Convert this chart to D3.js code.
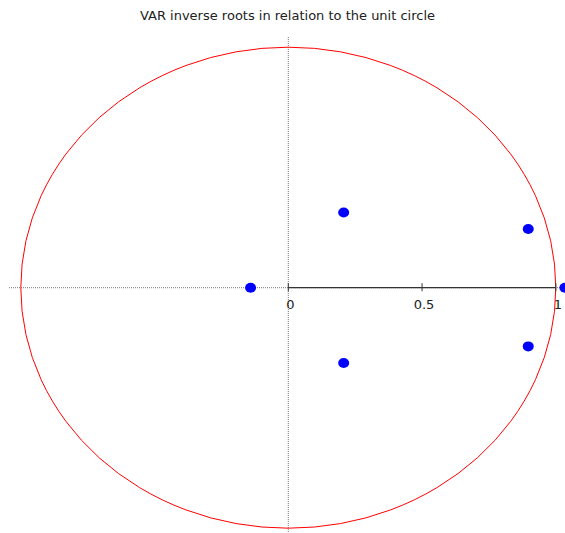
<!DOCTYPE html>
<html><head><meta charset="utf-8">
<script src="https://cdn.jsdelivr.net/npm/d3@7"></script>
<style>body{margin:0;background:#fff}svg{display:block}</style>
</head><body>
<script>
const title = "VAR inverse roots in relation to the unit circle";
const rootRe = [-0.141, 0.207, 0.207, 0.897, 0.897, 1.034];
const rootIm = [0, 0.313, -0.313, 0.244, -0.244, 0];
const tickValues = [0, 0.5, 1];
const tickLabels = ["0", "0.5", "1"];

const W = 565, H = 533;
const svg = d3.select("body").append("svg").attr("width", W).attr("height", H);
const x = d3.scaleLinear().domain([-1, 1]).range([20.8, 555.8]);
const y = d3.scaleLinear().domain([-1, 1]).range([528.2, 47.2]);

svg.append("text").attr("x", 287.5).attr("y", 20).attr("text-anchor", "middle")
  .attr("font-family", "DejaVu Sans").attr("font-size", 13).attr("fill", "#222").text(title);

// dotted axes
svg.append("line").attr("x1", 9).attr("x2", W).attr("y1", y(0)).attr("y2", y(0))
  .attr("stroke", "#777").attr("stroke-width", 1).attr("stroke-dasharray", "1,1");
svg.append("line").attr("x1", x(0)).attr("x2", x(0)).attr("y1", 37).attr("y2", H)
  .attr("stroke", "#777").attr("stroke-width", 1).attr("stroke-dasharray", "1,1");

// unit circle
svg.append("ellipse").attr("cx", x(0)).attr("cy", y(0))
  .attr("rx", x(1) - x(0)).attr("ry", y(0) - y(1))
  .attr("fill", "none").attr("stroke", "#f00").attr("stroke-width", 1);

// solid axis 0..1
const ax = svg.append("g");
ax.append("line").attr("x1", x(0)).attr("x2", x(1)).attr("y1", y(0)).attr("y2", y(0))
  .attr("stroke", "#333").attr("stroke-width", 1.3);
tickValues.forEach((t, i) => {
  ax.append("line").attr("x1", x(t)).attr("x2", x(t)).attr("y1", y(0) - 4.5).attr("y2", y(0) + 3.5)
    .attr("stroke", "#333").attr("stroke-width", 1);
  ax.append("text").attr("x", x(t) + 2).attr("y", y(0) + 21).attr("text-anchor", "middle")
    .attr("font-family", "DejaVu Sans").attr("font-size", 13).attr("fill", "#222").text(tickLabels[i]);
});

// roots
svg.append("g").selectAll("ellipse").data(d3.range(rootRe.length)).join("ellipse")
  .attr("cx", i => x(rootRe[i])).attr("cy", i => y(rootIm[i]))
  .attr("rx", 5.5).attr("ry", 5).attr("fill", "#00f");
</script>
</body></html>
